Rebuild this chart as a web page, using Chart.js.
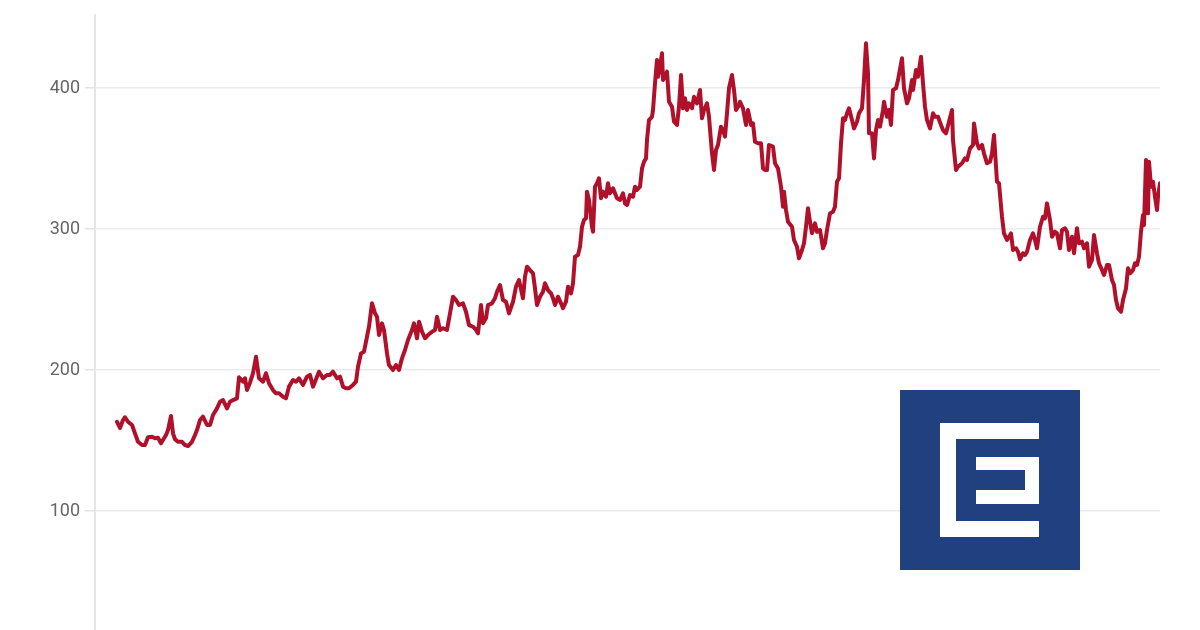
<!DOCTYPE html>
<html>
<head>
<meta charset="utf-8">
<script src="https://cdn.jsdelivr.net/npm/chart.js@4/dist/chart.umd.min.js"></script>
<style>
  html, body { margin: 0; padding: 0; background: #ffffff; }
  #wrap { width: 1200px; height: 630px; }
</style>
</head>
<body>
<div id="wrap"><canvas id="c" width="1200" height="630"></canvas></div>
<script>
// Week index (≈ 1 per week) and price
const weeks = [0,3,6,8,11,15,18,21,25,28,31,35,38,41,44,46,49,51,54,56,58,61,65,68,71,75,78,80,83,86,90,93,96,100,103,106,110,113,116,120,122,126,128,130,133,136,139,142,146,149,152,156,159,162,166,169,172,176,179,182,186,190,193,196,200,202,
206,210,213,216,220,223,226,229,232,236,239,241,244,247,250,252,255,258,260,262,265,267,270,272,276,279,282,285,288,291,295,297,300,302,305,308,311,315,318,320,323,326,330,333,336,339,342,346,349,352,356,359,361,364,366,369,371,375,378,380,383,386,389,392,396,399,402,406,408,410,413,
416,418,420,423,426,428,431,434,436,438,441,444,446,449,451,454,456,458,461,463,465,467,469,470,472,475,476,478,480,482,484,486,489,491,493,496,498,500,503,506,508,510,513,516,518,520,523,525,527,529,530,532,535,536,538,540,541,543,545,546,548,550,552,555,557,560,562,564,566,568,570,572,575,577,580,583,585,587,590,592,595,597,599,601,604,606,608,610,612,615,617,619,622,
623,626,629,631,634,636,638,641,644,646,648,650,652,656,658,661,664,666,667,669,671,675,677,680,682,685,687,689,691,693,695,698,700,703,706,708,710,713,716,718,720,722,724,726,728,730,732,735,737,740,742,745,747,749,751,752,755,757,759,761,763,766,767,770,772,774,776,779,781,785,787,790,792,795,796,799,801,804,806,808,810,813,816,818,821,824,826,829,832,
835,836,839,841,845,848,850,853,856,857,860,862,865,867,870,873,875,877,880,882,885,887,890,892,894,896,899,901,903,906,908,910,913,916,918,920,923,926,928,930,933,935,938,940,943,945,948,950,952,955,957,960,962,965,967,970,972,975,977,980,982,985,987,990,992,995,997,999,1001,1004,1006,1009,1011,1013,1016,1018,1020,1022,1024,1026,1027,1029,1031,1032,1034,1036,1038,1040,1041,1043];
const prices = [163.3,158.9,164.5,166.5,163.3,161.0,155.1,149.1,146.8,146.8,152.3,152.7,151.6,152.0,148.0,150.4,153.9,157.4,167.4,155.1,150.9,149.1,149.1,146.8,146.1,149.1,153.9,157.4,164.5,166.9,161.0,161.0,168.1,172.8,177.5,178.7,172.8,177.5,178.7,179.9,194.8,191.7,194.1,185.8,191.0,197.7,209.4,194.1,191.7,197.7,190.6,185.8,183.5,183.5,181.1,179.9,188.2,192.9,191.7,194.1,189.4,195.3,196.5,188.2,195.3,198.8,
194.1,196.5,196.5,198.8,194.1,195.3,188.2,187.0,187.0,189.4,191.7,202.3,211.8,213.0,223.6,230.7,247.3,240.2,237.8,224.8,233.1,228.4,211.8,203.5,200.0,203.5,200.0,208.3,214.2,221.3,228.4,233.1,222.5,234.3,227.2,222.5,224.8,227.2,228.4,237.8,228.4,229.6,228.4,240.2,252.0,249.6,246.1,247.3,241.3,231.9,230.7,228.4,226.0,246.1,233.1,236.7,246.1,247.3,250.9,255.5,260.3,249.6,248.4,240.2,248.4,259.1,263.8,250.9,266.2,273.3,270.9,
268.6,257.9,246.1,252.0,255.5,261.5,256.7,254.4,250.9,246.1,252.0,247.3,243.8,248.4,259.1,254.4,261.5,280.4,281.6,287.4,301.6,306.4,307.6,326.5,320.6,301.6,298.1,330.0,332.4,336.0,321.8,326.5,322.9,332.4,325.3,328.9,325.3,321.8,320.6,325.3,318.2,317.0,324.1,322.9,330.0,327.7,330.0,343.0,347.7,350.1,363.1,377.3,379.6,384.4,403.3,419.9,408.0,415.1,424.6,405.7,408.0,411.6,390.3,386.7,376.1,373.8,386.7,409.2,385.6,392.7,384.4,389.1,385.6,393.8,389.1,398.6,378.5,384.4,389.1,379.6,353.7,341.8,356.0,359.6,372.6,370.2,365.5,382.1,399.8,409.2,398.6,384.4,387.9,
390.3,385.6,373.8,384.4,373.8,375.0,361.9,360.8,360.8,343.0,341.8,341.8,359.6,358.4,346.6,343.0,330.0,315.8,326.5,313.5,305.2,301.6,292.2,287.4,279.2,285.1,289.9,301.6,314.7,305.2,297.0,304.0,298.1,299.3,286.3,289.9,299.3,311.1,312.3,315.8,333.5,336.0,360.8,378.5,377.3,382.1,385.6,377.3,371.4,376.1,382.1,385.6,405.7,431.7,410.4,367.9,367.9,350.1,370.2,377.3,372.6,384.4,390.3,379.6,384.4,373.8,398.6,399.8,405.7,421.1,399.8,389.1,392.7,405.7,398.6,412.8,408.0,422.2,403.3,386.7,377.3,371.4,382.1,379.6,379.6,373.8,370.2,367.9,376.1,
384.4,363.1,341.8,344.2,346.6,350.1,348.9,357.2,359.6,374.9,360.8,357.2,359.6,353.7,346.6,347.7,353.7,366.7,333.5,332.4,308.7,296.9,292.2,294.5,296.9,285.1,286.3,283.9,278.5,282.8,281.6,283.9,292.2,296.9,292.2,286.3,301.6,308.7,307.6,318.2,306.4,294.5,298.1,296.9,286.3,299.3,300.5,298.1,285.1,294.5,282.8,300.5,289.9,291.0,286.3,289.9,273.3,278.0,295.7,282.8,275.7,270.9,267.4,274.5,274.5,263.8,260.3,249.6,243.8,241.3,249.6,257.9,272.1,268.6,270.9,275.7,274.5,280.4,298.1,309.9,302.8,349.0,311.1,347.7,330.0,333.5,322.9,313.5,322.9,332.4];
const yTickValues = [100, 200, 300, 400];

const logoPlugin = {
  id: 'logo',
  afterDraw(chart) {
    const ctx = chart.ctx;
    ctx.save();
    ctx.fillStyle = '#21407f';
    ctx.fillRect(900, 390, 180, 180);
    ctx.fillStyle = '#ffffff';
    ctx.fillRect(940, 423, 99, 16);
    ctx.fillRect(940, 423, 16, 114);
    ctx.fillRect(940, 521, 99, 16);
    ctx.fillRect(976, 457, 63, 13);
    ctx.fillRect(1025, 457, 14, 47);
    ctx.fillRect(976, 490, 63, 14);
    ctx.restore();
  }
};

new Chart(document.getElementById('c'), {
  type: 'line',
  data: {
    datasets: [{
      data: weeks.map((w, i) => ({ x: w, y: prices[i] })),
      borderColor: '#b1102b',
      borderWidth: 4,
      pointRadius: 0,
      tension: 0,
      borderJoinStyle: 'round',
      borderCapStyle: 'round',
      fill: false
    }]
  },
  options: {
    responsive: false,
    animation: false,
    layout: { padding: { top: 15, right: 40, bottom: 0, left: 0 } },
    plugins: { legend: { display: false }, tooltip: { enabled: false } },
    scales: {
      x: {
        type: 'linear',
        display: false,
        min: -22,
        max: 1043
      },
      y: {
        min: 15.6,
        max: 451.8,
        afterFit(scale) { scale.width = 95; scale.paddingTop = 0; scale.paddingBottom = 0; },
        afterBuildTicks(scale) { scale.ticks = yTickValues.map(v => ({ value: v })); },
        grid: {
          color: '#ebebeb',
          lineWidth: 1.5,
          drawTicks: true,
          tickLength: 10,
          tickColor: '#e3e3e3'
        },
        border: { display: true, color: '#e6e6e6', width: 2 },
        ticks: {
          padding: 5,
          color: '#666666',
          font: { family: 'Roboto', size: 18 }
        }
      }
    }
  },
  plugins: [logoPlugin]
});
</script>
</body>
</html>
